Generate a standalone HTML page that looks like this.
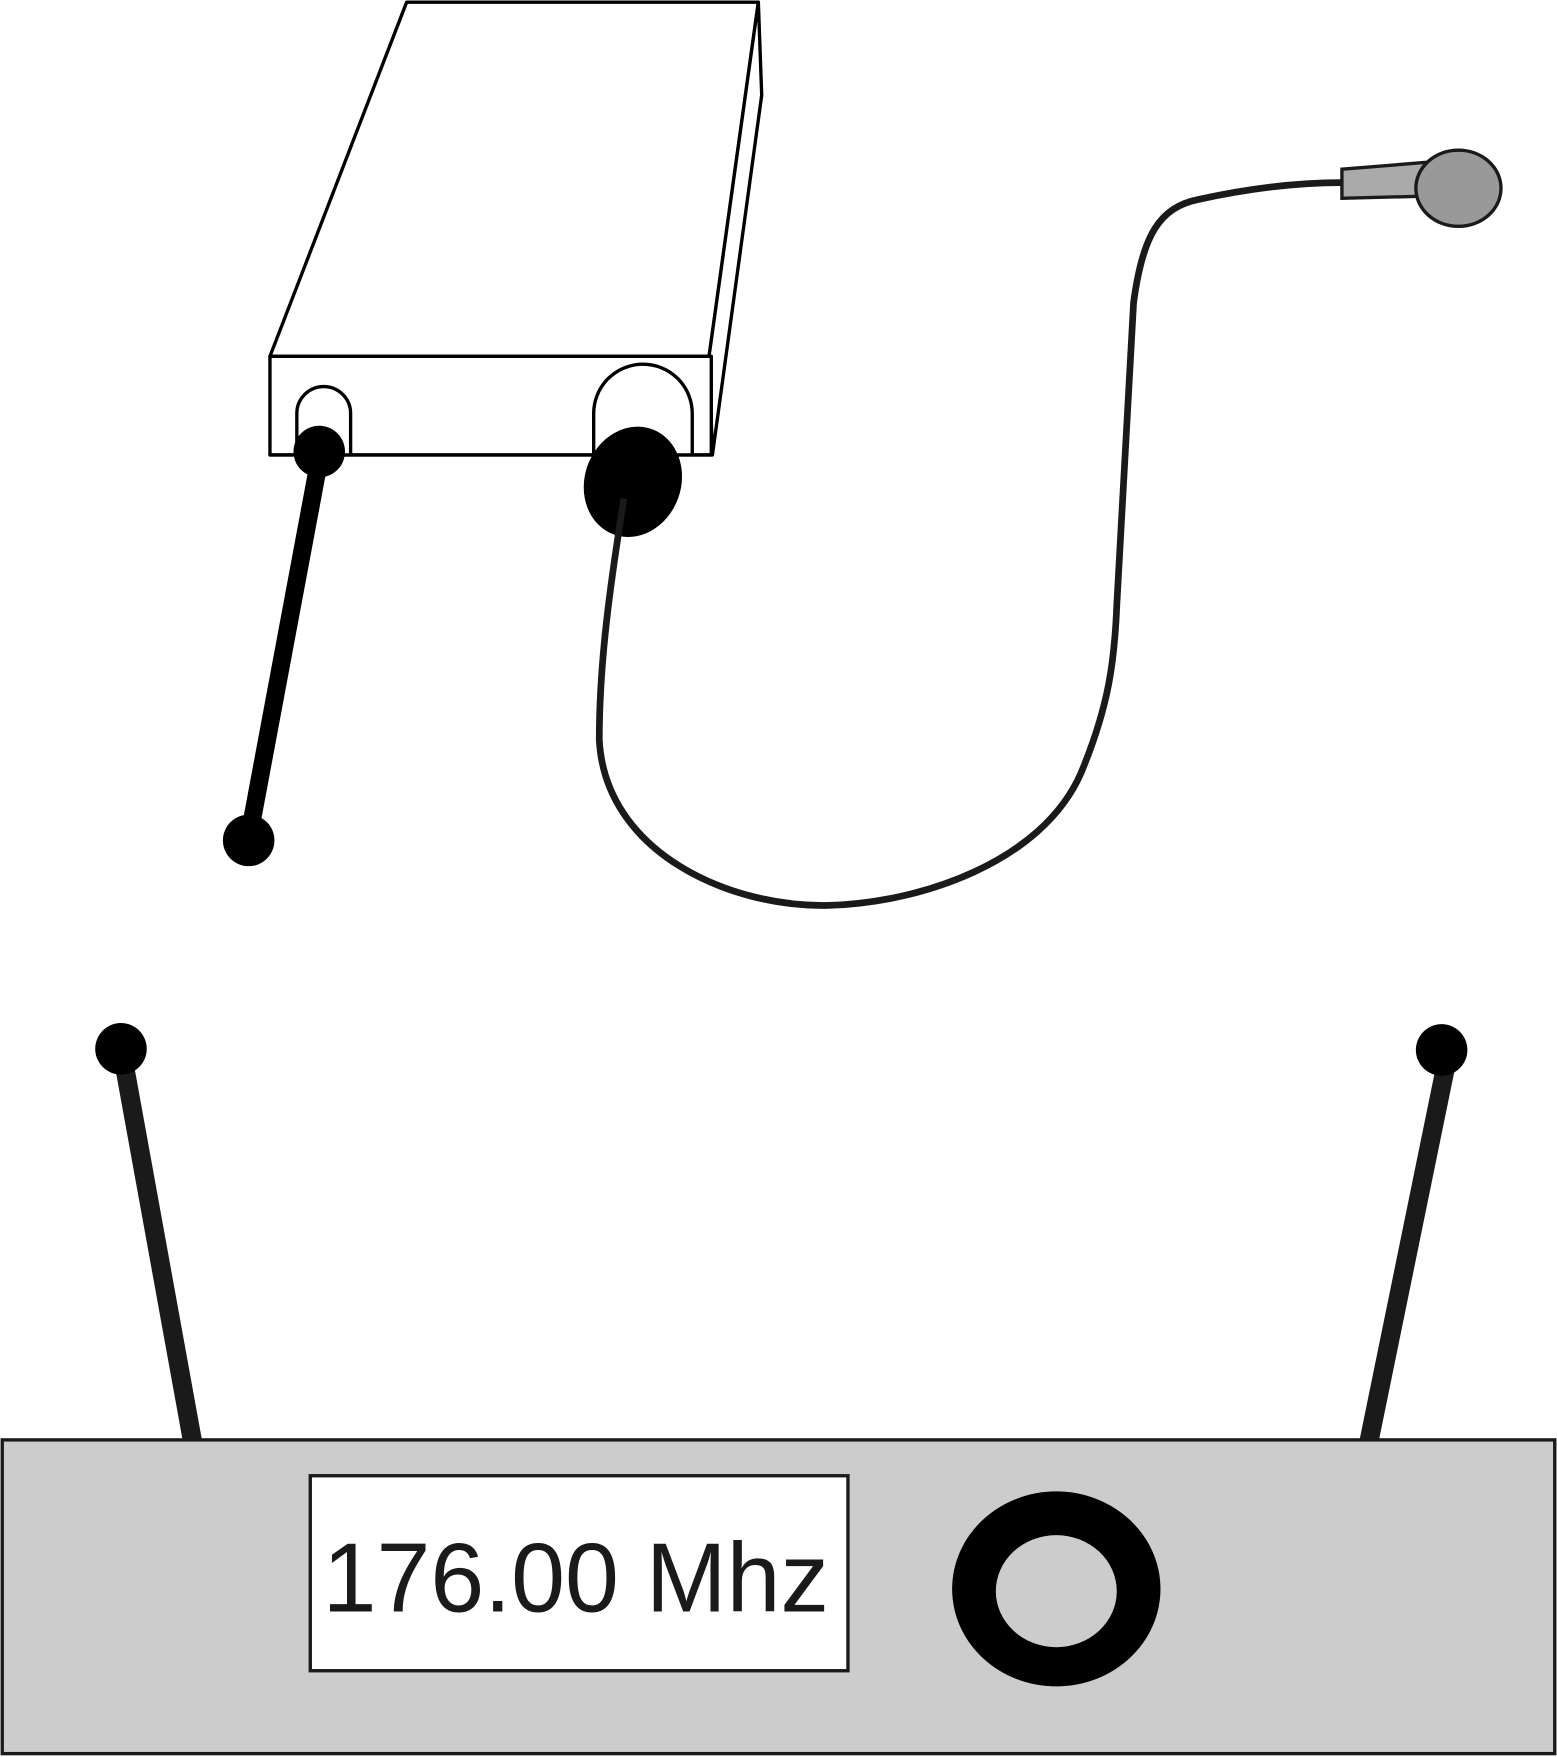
<!DOCTYPE html>
<html><head><meta charset="utf-8"><style>
html,body{margin:0;padding:0;background:#fff;}
svg{display:block;}
</style></head><body>
<svg width="1557" height="1757" viewBox="0 0 1390 1568" preserveAspectRatio="none" xmlns="http://www.w3.org/2000/svg">
<defs><clipPath id="front"><rect x="241" y="300" width="394" height="106"/></clipPath></defs>
<g stroke="#000" stroke-width="3" fill="#fff" stroke-linejoin="round">
  <polygon points="363,2 677,2 633,318 241,318"/>
  <polygon points="633,318 677,2 680,85 636,406"/>
  <rect x="241" y="318" width="394" height="88"/>
  <g clip-path="url(#front)">
    <rect x="265" y="345" width="48" height="95" rx="24"/>
    <rect x="530" y="325" width="88" height="140" rx="44"/>
  </g>
  <line x1="241" y1="406" x2="636" y2="406"/>
</g>
<g>
  <line x1="287" y1="400" x2="222" y2="748" stroke="#000" stroke-width="16"/>
  <circle cx="285" cy="403" r="23" fill="#000"/>
  <circle cx="222" cy="750" r="23" fill="#000"/>
</g>
<ellipse cx="565" cy="430" rx="43" ry="50" transform="rotate(20 565 430)" fill="#000"/>
<path d="M557,445 C545,520 535,590 535,660 C540,760 650,810 740,808 C820,806 930,770 965,690 C990,630 995,590 997,540 L1012,270 C1020,210 1035,185 1070,178 C1120,167 1160,163 1198,163" fill="none" stroke="#1a1a1a" stroke-width="6"/>
<g stroke="#1a1a1a" stroke-width="3">
  <polygon points="1198,151 1272,145 1274,175 1198,177" fill="#aaa"/>
  <ellipse cx="1302" cy="168" rx="38" ry="34" fill="#999"/>
</g>
<g>
  <line x1="110" y1="945" x2="172" y2="1287" stroke="#1a1a1a" stroke-width="17"/>
  <circle cx="108" cy="936" r="23" fill="#000"/>
  <line x1="1292" y1="945" x2="1222" y2="1287" stroke="#1a1a1a" stroke-width="17"/>
  <circle cx="1287" cy="937" r="23" fill="#000"/>
</g>
<rect x="2" y="1285" width="1386" height="280" fill="#ccc" stroke="#1a1a1a" stroke-width="3"/>
<rect x="277" y="1317" width="480" height="174" fill="#fff" stroke="#1a1a1a" stroke-width="3"/>
<text x="288" y="1438" font-family="Liberation Sans, sans-serif" font-size="88" fill="#1a1a1a" textLength="452" lengthAdjust="spacingAndGlyphs">176.00 Mhz</text>
<g>
  <ellipse cx="943" cy="1418" rx="93" ry="87" fill="#000"/>
  <ellipse cx="943" cy="1420" rx="54" ry="50" fill="#ccc"/>
</g>
</svg>
</body></html>
